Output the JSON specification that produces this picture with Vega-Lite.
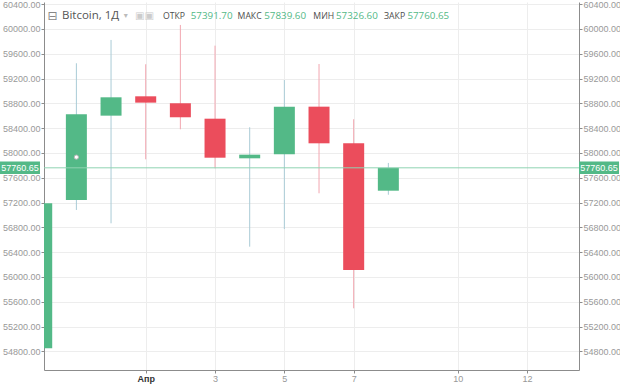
{
  "$schema": "https://vega.github.io/schema/vega-lite/v6.json",
  "width": 535,
  "height": 368,
  "autosize": {"type": "none"},
  "padding": {"left": 44, "top": 2, "right": 41, "bottom": 17},
  "background": "white",
  "config": {"view": {"stroke": null}, "font": "Liberation Sans"},
  "datasets": {
    "candles": [
      {"date": "2021-03-29", "day": -2, "open": 54850, "high": 57350, "low": 54650, "close": 57190},
      {"date": "2021-03-30", "day": -1, "open": 57242, "high": 59447, "low": 57081, "close": 58624},
      {"date": "2021-03-31", "day": 0, "open": 58602, "high": 59823, "low": 56866, "close": 58898},
      {"date": "2021-04-01", "day": 1, "open": 58914, "high": 59431, "low": 57898, "close": 58812},
      {"date": "2021-04-02", "day": 2, "open": 58802, "high": 60065, "low": 58382, "close": 58576},
      {"date": "2021-04-03", "day": 3, "open": 58553, "high": 59731, "low": 57753, "close": 57924},
      {"date": "2021-04-04", "day": 4, "open": 57914, "high": 58415, "low": 56489, "close": 57973},
      {"date": "2021-04-05", "day": 5, "open": 57979, "high": 59177, "low": 56774, "close": 58747},
      {"date": "2021-04-06", "day": 6, "open": 58747, "high": 59435, "low": 57350, "close": 58156},
      {"date": "2021-04-07", "day": 7, "open": 58156, "high": 58544, "low": 55495, "close": 56113},
      {"date": "2021-04-08", "day": 8, "open": 57391.70, "high": 57839.60, "low": 57326.60, "close": 57760.65}
    ]
  },
  "data": {"name": "candles"},
  "resolve": {"axis": {"y": "independent"}},
  "layer": [
    {
      "mark": {"type": "rule", "clip": true, "strokeWidth": 1},
      "encoding": {
        "x": {
          "field": "day", "type": "quantitative",
          "scale": {"domain": [-1.934, 13.5], "nice": false, "zero": false, "padding": 0},
          "axis": {
            "title": null, "values": [1, 3, 5, 7, 10, 12],
            "labelExpr": "datum.value == 1 ? 'Апр' : datum.label",
            "grid": true, "gridColor": "#ededed",
            "domainColor": "#8c8c8c", "tickColor": "#8c8c8c", "tickSize": 3,
            "labelFontSize": 9, "labelPadding": 1, "labelFont": "Liberation Sans",
            "labelColor": {"condition": {"test": "datum.value == 1", "value": "#333333"}, "value": "#999999"},
            "labelFontWeight": {"condition": {"test": "datum.value == 1", "value": "bold"}, "value": "normal"}
          }
        },
        "y": {
          "field": "low", "type": "quantitative",
          "scale": {"domain": [54500, 60435], "nice": false, "zero": false, "padding": 0},
          "axis": {
            "orient": "left", "title": null,
            "values": [54800, 55200, 55600, 56000, 56400, 56800, 57200, 57600, 58000, 58400, 58800, 59200, 59600, 60000, 60400],
            "format": ".2f", "grid": true, "gridColor": "#ededed",
            "domainColor": "#8c8c8c", "tickColor": "#8c8c8c", "tickSize": 3,
            "labelFontSize": 9, "labelPadding": 1, "labelColor": "#999999", "labelFont": "Liberation Sans"
          }
        },
        "y2": {"field": "high"},
        "color": {"condition": {"test": "datum.close >= datum.open", "value": "#a9cbd6"}, "value": "#f2a6b0"}
      }
    },
    {
      "mark": {"type": "bar", "clip": true, "size": 21},
      "encoding": {
        "x": {"field": "day", "type": "quantitative"},
        "y": {
          "field": "open", "type": "quantitative",
          "axis": {
            "orient": "right", "title": null,
            "values": [54800, 55200, 55600, 56000, 56400, 56800, 57200, 57600, 58000, 58400, 58800, 59200, 59600, 60000, 60400],
            "format": ".2f", "grid": false,
            "domainColor": "#8c8c8c", "tickColor": "#8c8c8c", "tickSize": 3,
            "labelFontSize": 9, "labelPadding": 1, "labelColor": "#999999", "labelFont": "Liberation Sans"
          }
        },
        "y2": {"field": "close"},
        "color": {"condition": {"test": "datum.close >= datum.open", "value": "#53b987"}, "value": "#eb4d5c"}
      }
    },
    {
      "transform": [{"filter": "datum.day == -1"}],
      "mark": {"type": "point", "filled": true, "fill": "white", "stroke": "#b5b5b5", "strokeWidth": 1, "size": 18, "opacity": 1},
      "encoding": {
        "x": {"field": "day", "type": "quantitative"},
        "y": {"datum": 57933, "type": "quantitative", "axis": null}
      }
    },
    {
      "transform": [{"filter": "datum.day == 8"}],
      "mark": {"type": "rule", "color": "#8fd3b2", "strokeWidth": 1},
      "encoding": {"y": {"field": "close", "type": "quantitative", "axis": null}}
    },
    {
      "transform": [{"filter": "datum.day == 8"}],
      "mark": {"type": "rect", "color": "#53b987", "clip": false},
      "encoding": {
        "x": {"datum": -3.204, "type": "quantitative"},
        "x2": {"datum": -2.05},
        "y": {"datum": 57863, "type": "quantitative", "axis": null},
        "y2": {"datum": 57661}
      }
    },
    {
      "transform": [{"filter": "datum.day == 8"}],
      "mark": {"type": "rect", "color": "#53b987", "clip": false},
      "encoding": {
        "x": {"datum": 13.5, "type": "quantitative"},
        "x2": {"datum": 14.655},
        "y": {"datum": 57863, "type": "quantitative", "axis": null},
        "y2": {"datum": 57661}
      }
    },
    {
      "transform": [{"filter": "datum.day == 8"}],
      "mark": {"type": "text", "color": "white", "fontSize": 9, "font": "Liberation Sans", "align": "center", "baseline": "middle"},
      "encoding": {
        "x": {"datum": -2.627, "type": "quantitative"},
        "y": {"field": "close", "type": "quantitative", "axis": null},
        "text": {"field": "close", "format": ".2f"}
      }
    },
    {
      "transform": [{"filter": "datum.day == 8"}],
      "mark": {"type": "text", "color": "white", "fontSize": 9, "font": "Liberation Sans", "align": "center", "baseline": "middle"},
      "encoding": {
        "x": {"datum": 14.078, "type": "quantitative"},
        "y": {"field": "close", "type": "quantitative", "axis": null},
        "text": {"field": "close", "format": ".2f"}
      }
    },
    {
      "transform": [{"filter": "datum.day == 8"}],
      "mark": {"type": "text", "color": "#888888", "fontSize": 12, "font": "DejaVu Sans", "align": "left", "baseline": "middle"},
      "encoding": {
        "x": {"datum": -1.83, "type": "quantitative"},
        "y": {"datum": 60210, "type": "quantitative", "axis": null},
        "text": {"value": "⊟"}
      }
    },
    {
      "transform": [{"filter": "datum.day == 8"}],
      "mark": {"type": "text", "color": "#555555", "fontSize": 11.5, "font": "Open Sans", "align": "left", "baseline": "middle"},
      "encoding": {
        "x": {"datum": -1.415, "type": "quantitative"},
        "y": {"datum": 60210, "type": "quantitative", "axis": null},
        "text": {"value": "Bitcoin, 1Д"}
      }
    },
    {
      "transform": [{"filter": "datum.day == 8"}],
      "mark": {"type": "text", "color": "#bbbbbb", "fontSize": 8, "font": "DejaVu Sans", "align": "left", "baseline": "middle"},
      "encoding": {
        "x": {"datum": 0.37, "type": "quantitative"},
        "y": {"datum": 60210, "type": "quantitative", "axis": null},
        "text": {"value": "▾"}
      }
    },
    {
      "transform": [{"filter": "datum.day == 8"}],
      "mark": {"type": "text", "color": "#cccccc", "fontSize": 10, "font": "DejaVu Sans", "align": "left", "baseline": "middle"},
      "encoding": {
        "x": {"datum": 0.69, "type": "quantitative"},
        "y": {"datum": 60210, "type": "quantitative", "axis": null},
        "text": {"value": "▣▣"}
      }
    },
    {
      "transform": [{"filter": "datum.day == 8"}],
      "mark": {"type": "text", "color": "#4d4d4d", "fontSize": 8.7, "font": "Open Sans", "align": "left", "baseline": "middle"},
      "encoding": {
        "x": {"datum": 1.499, "type": "quantitative"},
        "y": {"datum": 60210, "type": "quantitative", "axis": null},
        "text": {"value": "ОТКР"}
      }
    },
    {
      "transform": [{"filter": "datum.day == 8"}],
      "mark": {"type": "text", "color": "#53b987", "fontSize": 9.8, "font": "Open Sans", "align": "left", "baseline": "middle"},
      "encoding": {
        "x": {"datum": 2.3, "type": "quantitative"},
        "y": {"datum": 60210, "type": "quantitative", "axis": null},
        "text": {"field": "open", "format": ".2f"}
      }
    },
    {
      "transform": [{"filter": "datum.day == 8"}],
      "mark": {"type": "text", "color": "#4d4d4d", "fontSize": 8.7, "font": "Open Sans", "align": "left", "baseline": "middle"},
      "encoding": {
        "x": {"datum": 3.65, "type": "quantitative"},
        "y": {"datum": 60210, "type": "quantitative", "axis": null},
        "text": {"value": "МАКС"}
      }
    },
    {
      "transform": [{"filter": "datum.day == 8"}],
      "mark": {"type": "text", "color": "#53b987", "fontSize": 9.8, "font": "Open Sans", "align": "left", "baseline": "middle"},
      "encoding": {
        "x": {"datum": 4.42, "type": "quantitative"},
        "y": {"datum": 60210, "type": "quantitative", "axis": null},
        "text": {"field": "high", "format": ".2f"}
      }
    },
    {
      "transform": [{"filter": "datum.day == 8"}],
      "mark": {"type": "text", "color": "#4d4d4d", "fontSize": 8.7, "font": "Open Sans", "align": "left", "baseline": "middle"},
      "encoding": {
        "x": {"datum": 5.836, "type": "quantitative"},
        "y": {"datum": 60210, "type": "quantitative", "axis": null},
        "text": {"value": "МИН"}
      }
    },
    {
      "transform": [{"filter": "datum.day == 8"}],
      "mark": {"type": "text", "color": "#53b987", "fontSize": 9.8, "font": "Open Sans", "align": "left", "baseline": "middle"},
      "encoding": {
        "x": {"datum": 6.49, "type": "quantitative"},
        "y": {"datum": 60210, "type": "quantitative", "axis": null},
        "text": {"field": "low", "format": ".2f"}
      }
    },
    {
      "transform": [{"filter": "datum.day == 8"}],
      "mark": {"type": "text", "color": "#4d4d4d", "fontSize": 8.7, "font": "Open Sans", "align": "left", "baseline": "middle"},
      "encoding": {
        "x": {"datum": 7.876, "type": "quantitative"},
        "y": {"datum": 60210, "type": "quantitative", "axis": null},
        "text": {"value": "ЗАКР"}
      }
    },
    {
      "transform": [{"filter": "datum.day == 8"}],
      "mark": {"type": "text", "color": "#53b987", "fontSize": 9.8, "font": "Open Sans", "align": "left", "baseline": "middle"},
      "encoding": {
        "x": {"datum": 8.55, "type": "quantitative"},
        "y": {"datum": 60210, "type": "quantitative", "axis": null},
        "text": {"field": "close", "format": ".2f"}
      }
    }
  ]
}
